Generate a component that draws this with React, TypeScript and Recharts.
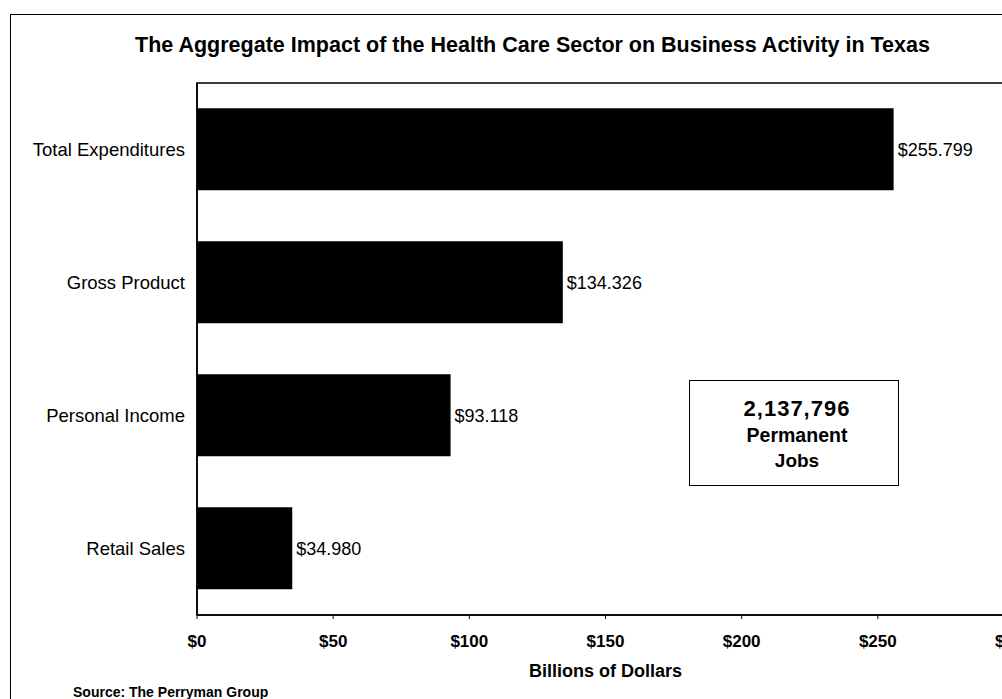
import React from "react";
import {
  BarChart,
  Bar,
  XAxis,
  YAxis,
  LabelList,
  Label,
  ReferenceArea,
} from "recharts";

// Values in billions of dollars
const categories = ["Total Expenditures", "Gross Product", "Personal Income", "Retail Sales"];
const impactValues = [255.799, 134.326, 93.118, 34.98];
const xTicks = [0, 50, 100, 150, 200, 250, 300];

const data = categories.map((name, i) => ({ name, value: impactValues[i] }));

const FONT = "'Liberation Sans', Arial, sans-serif";

const textAt = (baseline: number, size: number) => baseline - 0.8465 * size;

export default function App() {
  return (
    <div
      style={{
        position: "absolute",
        left: 0,
        top: 0,
        width: 1002,
        height: 699,
        overflow: "hidden",
        background: "#fff",
        fontFamily: FONT,
        color: "#000",
      }}
    >
      {/* outer frame (right and bottom are cropped off) */}
      <div
        style={{
          position: "absolute",
          left: 10,
          top: 14,
          width: 1100,
          height: 800,
          borderLeft: "1.5px solid #000",
          borderTop: "1.5px solid #000",
        }}
      />

      <div
        style={{
          position: "absolute",
          left: 0,
          width: 1065,
          top: textAt(53, 21.5),
          textAlign: "center",
          fontSize: 21.5,
          fontWeight: "bold",
          lineHeight: 1,
          whiteSpace: "nowrap",
        }}
      >
        The Aggregate Impact of the Health Care Sector on Business Activity in Texas
      </div>

      <div style={{ position: "absolute", left: 0, top: 0 }}>
        <BarChart
          width={1100}
          height={699}
          data={data}
          layout="vertical"
          margin={{ top: 83, right: 86, bottom: 0, left: 0 }}
          barCategoryGap="19%"
        >
          <ReferenceArea x1={0} x2={300} fill="none" stroke="#000" strokeWidth={1.5} />
          <XAxis
            type="number"
            domain={[0, 300]}
            ticks={xTicks}
            tickFormatter={(v: number) => `$${v}`}
            height={84}
            axisLine={{ stroke: "#000", strokeWidth: 1.5 }}
            tickLine={{ stroke: "#000" }}
            tickSize={4}
            tickMargin={16}
            tick={{ fill: "#000", fontSize: 17, fontWeight: "bold", fontFamily: FONT }}
          >
            <Label
              value="Billions of Dollars"
              position="insideBottom"
              offset={22}
              style={{ fill: "#000", fontSize: 18, fontWeight: "bold", fontFamily: FONT }}
            />
          </XAxis>
          <YAxis
            type="category"
            dataKey="name"
            width={197}
            axisLine={{ stroke: "#000", strokeWidth: 1.5 }}
            tickLine={false}
            tickSize={6}
            tickMargin={6}
            tick={{ fill: "#000", fontSize: 18.5, fontFamily: FONT }}
          />
          <Bar dataKey="value" fill="#000" isAnimationActive={false}>
            <LabelList
              dataKey="value"
              position="right"
              offset={4}
              formatter={(v: number) => `$${v.toFixed(3)}`}
              style={{ fill: "#000", fontSize: 18, fontFamily: FONT }}
            />
          </Bar>
        </BarChart>
      </div>

      {/* jobs callout box */}
      <div
        style={{
          position: "absolute",
          left: 689,
          top: 380,
          width: 210,
          height: 106,
          border: "1.5px solid #000",
          boxSizing: "border-box",
        }}
      />
      {[
        { text: "2,137,796", size: 22, baseline: 417, spacing: 1 },
        { text: "Permanent", size: 19.5, baseline: 443, spacing: 0 },
        { text: "Jobs", size: 19, baseline: 467, spacing: 0 },
      ].map((line) => (
        <div
          key={line.text}
          style={{
            position: "absolute",
            left: 689,
            width: 216,
            top: textAt(line.baseline, line.size),
            textAlign: "center",
            fontSize: line.size,
            fontWeight: "bold",
            letterSpacing: line.spacing,
            lineHeight: 1,
          }}
        >
          {line.text}
        </div>
      ))}

      <div
        style={{
          position: "absolute",
          left: 73,
          top: textAt(697, 14),
          fontSize: 14,
          fontWeight: "bold",
          lineHeight: 1,
          whiteSpace: "nowrap",
        }}
      >
        Source: The Perryman Group
      </div>
    </div>
  );
}
